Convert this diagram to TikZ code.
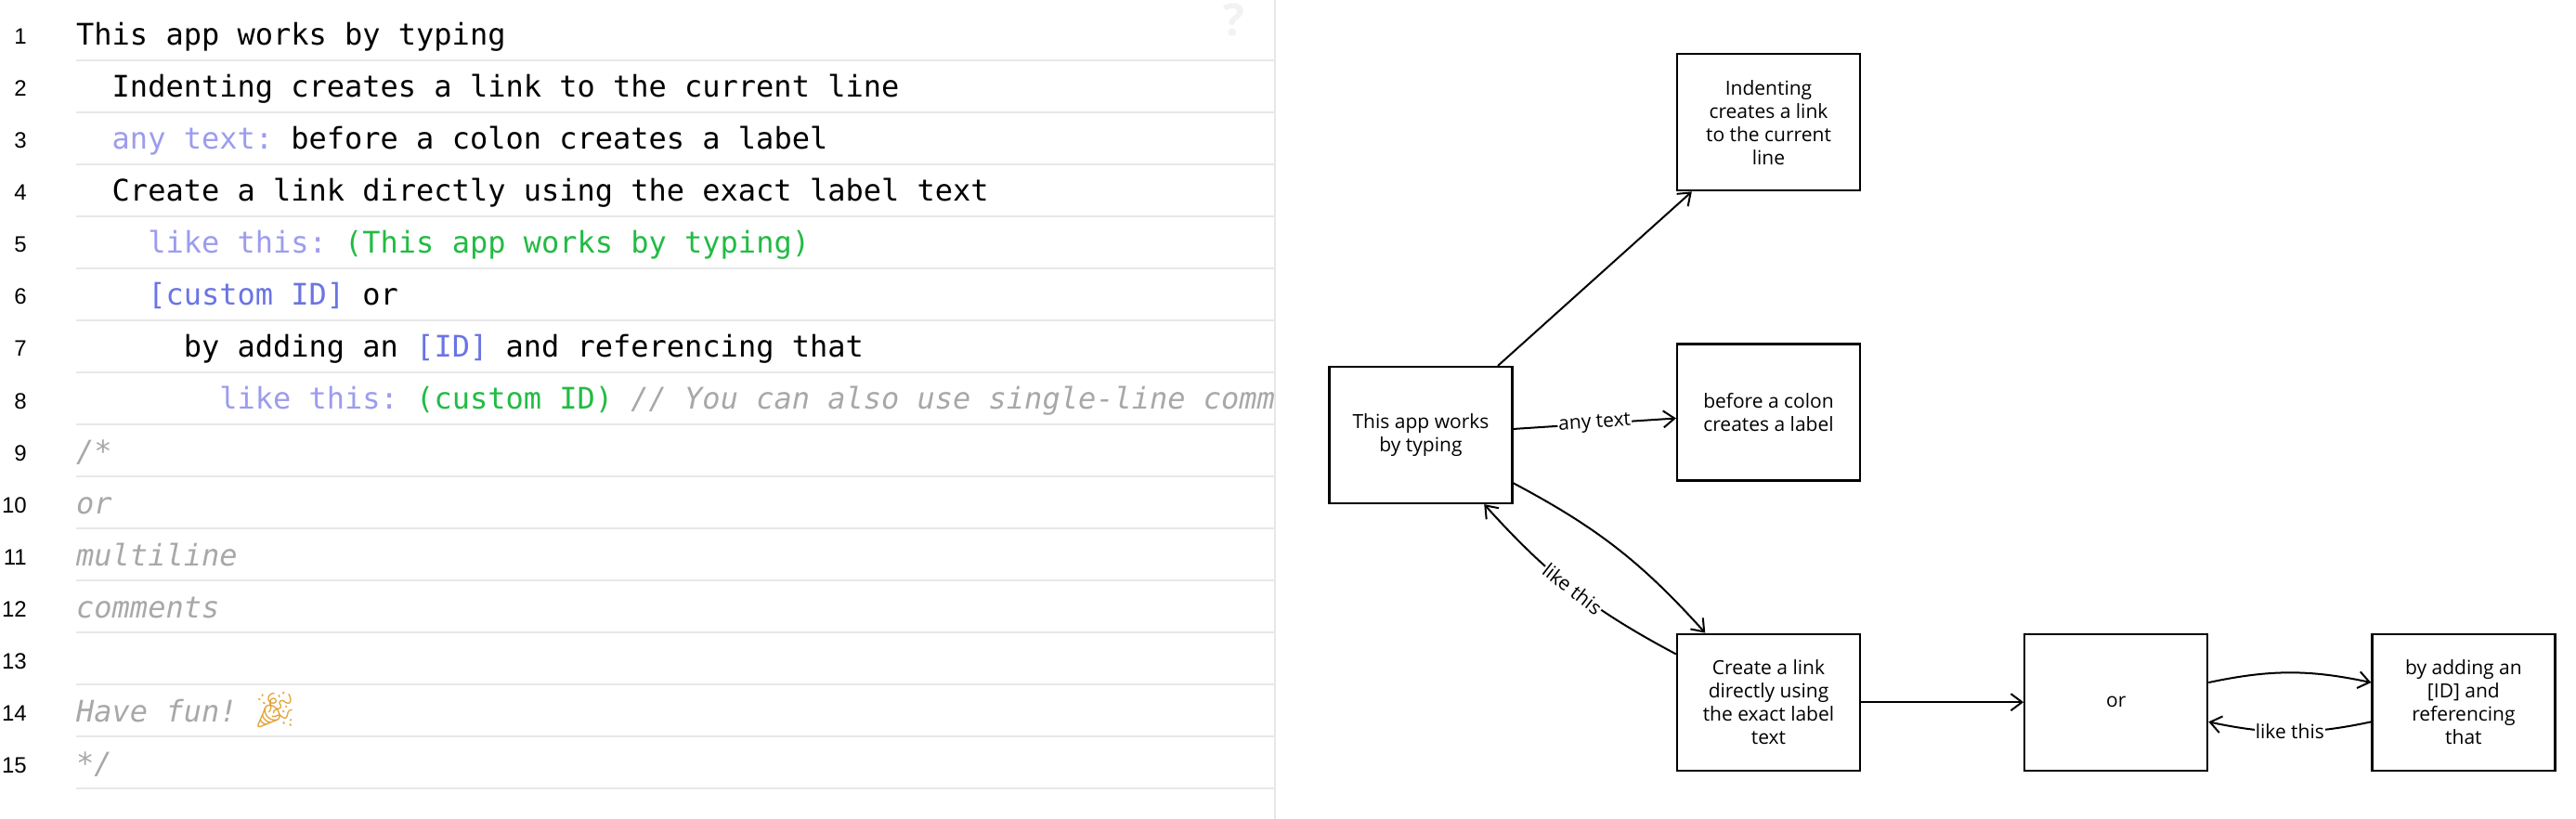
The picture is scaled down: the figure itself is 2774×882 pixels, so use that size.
\documentclass[tikz,border=0pt]{standalone}
\usepackage{fontspec}
\usetikzlibrary{arrows.meta,positioning}
\newfontfamily\codefont{DejaVu Sans Mono}
\newfontfamily\boxfont{Open Sans}
\newfontfamily\numfont{Liberation Sans}
\newfontfamily\emojifont{Noto Emoji}
\definecolor{labelcol}{HTML}{9C9CEE}
\definecolor{idcol}{HTML}{6A74E4}
\definecolor{refcol}{HTML}{22BB44}
\definecolor{commentcol}{HTML}{A8A8A8}
\definecolor{rulecol}{HTML}{E8E8E8}
\definecolor{helpcol}{HTML}{F2F2F2}
\definecolor{popcol}{HTML}{E2A53A}
\tikzset{
  box/.style ={rectangle,draw,line width=2.2pt,minimum width=197pt,minimum height=147pt,inner sep=0pt,align=center,font=\boxfont\fontsize{21}{25}\selectfont},
  edgelabel/.style ={fill=white,inner sep=1pt,sloped,font=\boxfont\fontsize{21}{25}\selectfont},
  coderow/.style ={anchor=base west,inner sep=0pt,font=\codefont\fontsize{32}{32}\selectfont},
  numrow/.style ={anchor=base east,inner sep=0pt,font=\numfont\fontsize{24}{24}\selectfont},
  link/.style ={->,line width=2pt},
  >={Straight Barb[length=12pt,width=18pt]}
}
\newcommand{\labtxt}[1]{\textcolor{labelcol}{#1}}
\newcommand{\idtxt}[1]{\textcolor{idcol}{#1}}
\newcommand{\reftxt}[1]{\textcolor{refcol}{#1}}
\newcommand{\cmttxt}[1]{\textcolor{commentcol}{\itshape #1}}
\frenchspacing
\begin{document}
\begin{tikzpicture}[x=1pt,y=-1pt]
\useasboundingbox (0,0) rectangle (2774,882);

% -------- editor rows --------
\draw[rulecol,line width=1.5pt] (1373,0) -- (1373,882);
\foreach \n in {1,...,15} {
  \pgfmathsetmacro\ruley{9+56*\n}
  \draw[rulecol,line width=2pt] (82,\ruley) -- (1373,\ruley);
  \node[numrow] (num\n) at (29,\ruley-17) {\n};
}
\foreach \n/\lvl/\txt in {
  1/0/{This app works by typing},
  2/1/{Indenting creates a link to the current line},
  3/1/{\labtxt{any text:} before a colon creates a label},
  4/1/{Create a link directly using the exact label text},
  5/2/{\labtxt{like this:} \reftxt{(This app works by typing)}},
  6/2/{\idtxt{[custom ID]} or},
  7/3/{by adding an \idtxt{[ID]} and referencing that},
  8/4/{\labtxt{like this:} \reftxt{(custom ID)} \cmttxt{// You can also use single-line comm}},
  9/0/{\cmttxt{/*}},
  10/0/{\cmttxt{or}},
  11/0/{\cmttxt{multiline}},
  12/0/{\cmttxt{comments}},
  14/0/{\cmttxt{Have fun! }\kern-3pt\textcolor{popcol}{\emojifont\fontsize{38}{38}\selectfont 🎉}},
  15/0/{\cmttxt{*/}}
} \node[coderow] (row\n) at (82+38.53*\lvl,9+56*\n-16) {\txt};

\node[font=\boxfont\bfseries\fontsize{48}{48}\selectfont,text=helpcol,inner sep=0pt] (help) at (1329,21) {?};

% -------- graph boxes --------
\node[box] (start) at (1530,468.5) {This app works\\by typing};
\node[box] (label) at (1904.5,444) {before a colon\\creates a label};
\node[box, above=163pt of label] (indent) {Indenting\\creates a link\\to the current\\line};
\node[box, below=163pt of label] (create) {Create a link\\directly using\\the exact label\\text};
\node[box, right=175pt of create] (orbox) {or};
\node[box, right=175pt of orbox] (adding) {by adding an\\{[ID]} and\\referencing\\that};

% -------- links --------
\draw[link] (start) -- (indent);
\draw[link] (start) -- node[edgelabel] (anytext) {any text} (label);
\draw[link] (start) to[bend left=10] (create);
\draw[link] (create) to[bend left=10] node[edgelabel] (likeone) {like this} (start);
\draw[link] (create) -- (orbox);
\draw[link] (orbox) to[bend left=12] (adding);
\draw[link] (adding) to[bend left=12] node[edgelabel] (liketwo) {like this} (orbox);

\end{tikzpicture}
\end{document}
